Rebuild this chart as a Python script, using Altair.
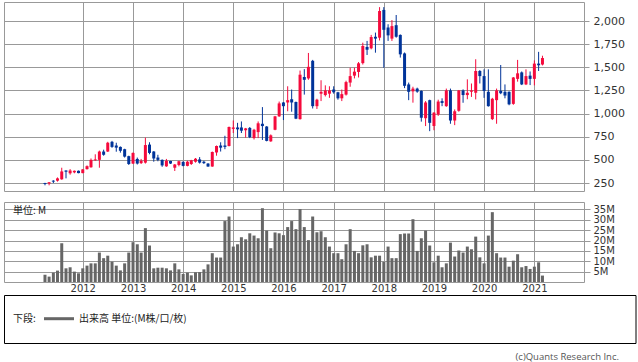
import altair as alt
import pandas as pd

# Monthly candles, Apr 2011 .. Mar 2021
start_month = "2011-04-01"
opens = [250,245,275,275,290,385,355,365,382,357,400,420,495,500,590,590,695,655,640,615,
         540,460,510,465,470,665,590,525,500,430,488,415,445,478,435,455,480,505,480,460,
         428,580,655,655,650,835,850,850,820,845,735,800,890,860,700,825,970,1120,1120,1155,
         1125,940,1395,1380,1570,1080,1215,1200,1215,1260,1230,1165,1205,1335,1410,1450,1545,1720,1705,1830,
         1820,2120,1930,1810,1955,1850,1650,1315,1240,1270,1245,950,1145,866,990,1135,1080,1250,925,1030,
         1250,1200,1236,1225,1460,1405,1235,940,1145,1245,1235,1235,1105,1375,1445,1315,1410,1375,1540,1530]
highs = [252,260,280,310,415,387,400,385,385,400,440,515,560,600,610,695,705,685,645,620,
         545,580,525,510,740,690,595,555,505,510,490,455,490,485,490,500,520,530,490,465,
         590,655,690,760,860,925,900,915,845,855,835,915,1070,865,775,975,1130,1125,1295,1260,
         1130,1465,1480,1655,1580,1160,1360,1305,1295,1295,1235,1260,1355,1495,1495,1557,1766,1785,1850,1875,
         2150,2150,1965,2010,2065,1855,1660,1335,1290,1280,1250,1135,1150,1015,1150,1165,1270,1270,1045,1255,
         1262,1370,1325,1587,1470,1478,1478,1170,1270,1525,1315,1240,1395,1580,1455,1478,1455,1575,1667,1625]
lows = [225,225,250,265,285,300,340,355,355,355,395,415,490,415,545,585,630,588,578,525,
        445,455,450,455,460,560,480,485,425,425,455,380,430,430,430,445,470,460,455,425,
        425,545,590,615,645,790,735,790,740,735,720,735,715,700,695,820,965,930,1025,1020,
        940,935,1205,1365,1055,1050,1135,1185,1170,1215,1150,1135,1195,1290,1380,1390,1530,1633,1694,1658,
        1790,1495,1785,1785,1820,1605,1275,1145,1118,1225,913,865,810,820,975,1080,1073,890,875,1020,
        1117,1155,1180,1153,1325,1170,1075,930,890,1210,1165,1090,1095,1345,1308,1308,1308,1305,1460,1520]
closes = [240,258,265,300,375,372,385,382,357,397,432,500,505,590,555,685,640,632,598,535,
          455,575,460,490,660,575,515,500,440,490,460,450,485,435,480,495,512,470,465,428,
          585,650,632,640,855,850,830,815,840,745,825,895,865,705,765,970,1110,1080,1145,1120,
          945,1420,1365,1505,1080,1150,1235,1250,1250,1230,1165,1210,1340,1405,1453,1543,1730,1690,1827,1810,
          2108,1905,1845,1945,1830,1640,1300,1235,1270,1237,955,1120,900,1010,1130,1115,1250,925,1025,1250,
          1200,1225,1250,1460,1405,1245,1080,1160,1250,1220,1195,1100,1390,1435,1315,1405,1375,1540,1522,1600]
volume_m = [3.5,2.6,4.5,5.5,18.7,6.6,7.1,5.0,4.2,6.6,
            7.9,9.0,9.0,14.2,11.5,12.7,9.8,7.9,5.6,9.0,
            14.2,19.2,18.2,14.2,26.0,17.6,6.6,6.9,6.9,6.6,
            5.6,9.0,6.1,3.9,4.5,3.2,4.7,4.8,6.1,8.5,
            13.9,11.8,11.8,29.4,31.6,17.1,18.2,21.6,20.6,23.5,
            22.4,21.1,35.6,24.8,16.3,23.9,23.5,22.6,26.5,29.4,
            25.5,35.2,26.5,20.2,31.6,24.0,24.5,21.6,17.1,13.9,
            13.9,11.0,18.2,25.5,15.0,13.9,17.7,18.2,11.9,12.7,
            12.7,9.7,17.1,11.5,11.5,23.1,23.4,23.4,30.3,15.0,
            21.1,24.8,17.6,9.5,12.7,7.1,9.0,19.0,12.3,15.2,
            14.2,17.1,15.8,21.9,11.9,9.0,22.4,33.7,13.9,11.8,
            11.8,7.4,10.3,13.4,7.1,7.7,6.3,7.4,9.5,3.1]
price_ticks = [250, 500, 750, 1000, 1250, 1500, 1750, 2000]
vol_ticks = [5, 10, 15, 20, 25, 30, 35]
years = list(range(2012, 2022))

dates = pd.date_range(start_month, periods=len(opens), freq="MS").strftime("%Y-%m-%d")
df = pd.DataFrame({
    "date": dates, "open": opens, "high": highs, "low": lows, "close": closes,
    "vol": volume_m,
})
df["dir"] = ["up" if c >= o else "down" for o, c in zip(opens, closes)]

RED = "#f50a3c"
BLUE = "#003399"
GRID = "#999999"
LATIN = "DejaVu Sans"
CJK = "Noto Sans CJK JP"

xscale = alt.Scale(type="utc",
                   domain=[alt.DateTime(year=2010, month=7, date=13, utc=True),
                           alt.DateTime(year=2021, month=11, date=22, utc=True)])
year_vals = [alt.DateTime(year=y, month=1, date=1, utc=True) for y in years]

color = alt.Color("dir:N", scale=alt.Scale(domain=["up", "down"], range=[RED, BLUE]), legend=None)

x_top = alt.X("date:T", scale=xscale,
              axis=alt.Axis(values=year_vals, labels=False, ticks=False, domain=False,
                            grid=True, gridColor=GRID, gridOpacity=1, title=None))
yscale = alt.Scale(domain=[163.6, 2205.5], nice=False, zero=False)
yaxis = alt.Axis(orient="right", values=price_ticks, format=",.0f", title=None, domain=False,
                 grid=True, gridColor=GRID, gridOpacity=1, tickColor=GRID, tickSize=5,
                 labelPadding=4, labelFontSize=11, labelFont=LATIN, labelColor="#333333",
                 labelOverlap=False, labelFlush=False)

base = alt.Chart(df).encode(x=x_top, color=color)
wick = base.mark_rule(strokeWidth=1).encode(
    y=alt.Y("low:Q", scale=yscale, axis=yaxis), y2="high:Q")
body = base.mark_bar(size=3).encode(
    y=alt.Y("open:Q", scale=yscale, axis=yaxis), y2="close:Q")
top = alt.layer(wick, body).properties(width=580, height=189)

x_bot = alt.X("date:T", scale=xscale,
              axis=alt.Axis(values=year_vals, format="%Y", formatType="utc", ticks=False,
                            tickSize=0, domain=False, grid=True, gridColor=GRID, gridOpacity=1,
                            labelPadding=1, labelFontSize=10, labelFont=LATIN,
                            labelColor="#333333", labelFlush=False, labelOverlap=False,
                            title=None))
vbars = alt.Chart(df).mark_bar(size=3, color="#666666").encode(
    x=x_bot,
    y=alt.Y("vol:Q", scale=alt.Scale(domain=[0, 38.6], nice=False),
            axis=alt.Axis(orient="right", values=vol_ticks, labelExpr="datum.value + 'M'",
                          title=None, domain=False, grid=True, gridColor=GRID, gridOpacity=1,
                          tickColor=GRID, tickSize=6, labelPadding=3, labelFontSize=10,
                          labelFont=LATIN, labelColor="#333333", labelOverlap=False,
                          labelFlush=False)))

one = pd.DataFrame({"k": [0]})
unit_txt = alt.Chart(one).mark_text(text="単位: M", align="left", baseline="middle",
                                    font=CJK, fontSize=10, color="#222222").encode(
    x=alt.value(9), y=alt.value(9))
legend_box = alt.Chart(one).mark_rect(fill="white", stroke="black", strokeWidth=1).encode(
    x=alt.value(0.5), x2=alt.value(632), y=alt.value(93.5), y2=alt.value(141.5))
leg_label = alt.Chart(one).mark_text(text="下段:", align="left", baseline="middle",
                                     font=CJK, fontSize=10, color="#222222").encode(
    x=alt.value(9), y=alt.value(116.7))
leg_line = alt.Chart(one).mark_rule(stroke="#666666", strokeWidth=3).encode(
    x=alt.value(40), x2=alt.value(70), y=alt.value(116.7))
leg_text = alt.Chart(one).mark_text(text="出来高 単位:(M株/口/枚)", align="left",
                                    baseline="middle", font=CJK, fontSize=10,
                                    color="#222222").encode(
    x=alt.value(75), y=alt.value(116.7))
copy_txt = alt.Chart(one).mark_text(text="(c)Quants Research Inc.", align="right",
                                    baseline="middle", font="Open Sans", fontSize=9.5,
                                    color="#555555").encode(
    x=alt.value(615), y=alt.value(154.5))

bottom = alt.layer(vbars, unit_txt, legend_box, leg_label, leg_line, leg_text, copy_txt
                   ).properties(width=580, height=80)

chart = alt.vconcat(top, bottom, spacing=9).properties(
    padding={"left": 3, "top": 1, "right": 0, "bottom": 0},
    background="white",
).configure_view(stroke=GRID, strokeWidth=1).configure_axis(labelFont=LATIN)

chart.save("out.html", embed_options={"renderer": "svg", "actions": False})
